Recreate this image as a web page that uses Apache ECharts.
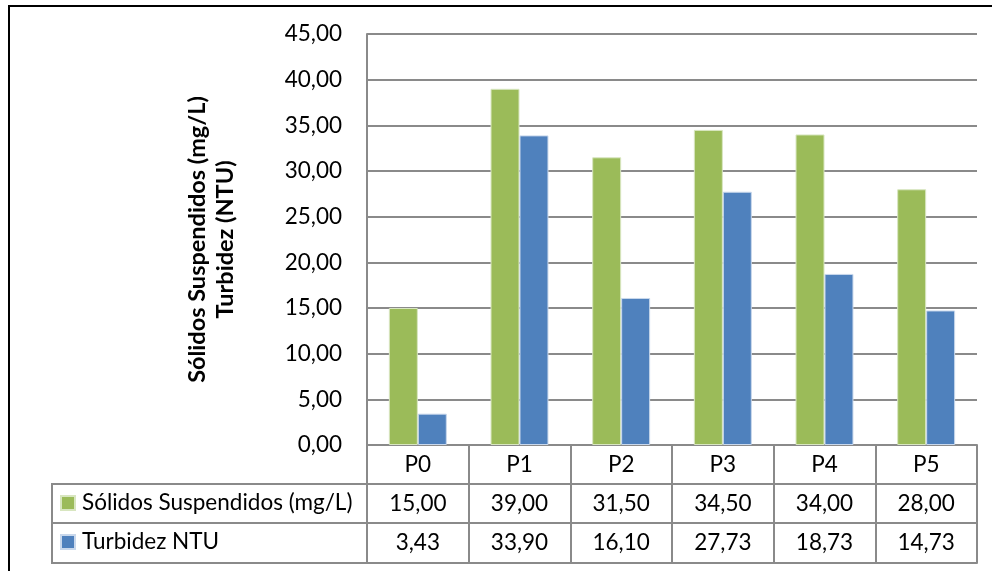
<!DOCTYPE html>
<html>
<head>
<meta charset="utf-8">
<script src="https://cdn.jsdelivr.net/npm/echarts@6/dist/echarts.min.js"></script>
<style>html,body{margin:0;padding:0;background:#fff;}#c{width:992px;height:571px;}</style>
</head>
<body>
<div id="c"></div>
<script>
const categories = ['P0', 'P1', 'P2', 'P3', 'P4', 'P5'];
const solidos = [15.00, 39.00, 31.50, 34.50, 34.00, 28.00];
const turbidez = [3.43, 33.90, 16.10, 27.73, 18.73, 14.73];
const seriesNames = ['Sólidos Suspendidos (mg/L)', 'Turbidez NTU'];
const yTitle = 'Sólidos Suspendidos (mg/L)\nTurbidez (NTU)';

const FONT = 'Lato';
const FS = 22.5;
const GRID = '#8a8a8a';
const fmt = v => Number(v).toFixed(2).replace('.', ',');

const chart = echarts.init(document.getElementById('c'), null, {renderer: 'canvas'});

function tableAxis(offset, data, showLabel) {
  return {
    type: 'category', data: data, position: 'bottom', offset: offset,
    axisLine: {show: true, lineStyle: {color: GRID, width: 2}},
    axisTick: {show: false},
    axisLabel: {show: showLabel, color: '#000', fontFamily: FONT, fontSize: FS, margin: 8},
    splitLine: {show: false}
  };
}

const option = {
  animation: false,
  backgroundColor: '#fff',
  grid: {left: 367, right: 15, top: 34, bottom: 126, containLabel: false},
  legend: {
    orient: 'vertical', left: 60, top: 491, itemGap: 15, padding: 0,
    itemWidth: 14, itemHeight: 14, icon: 'rect',
    textStyle: {fontFamily: FONT, fontSize: FS, color: '#000', lineHeight: 24, padding: [0, 0, 0, 2]},
    selectedMode: false,
    data: seriesNames
  },
  xAxis: [
    {
      type: 'category', data: categories, position: 'bottom',
      axisLine: {show: true, lineStyle: {color: GRID, width: 2}},
      axisTick: {show: true, length: 118, lineStyle: {color: GRID, width: 2}},
      axisLabel: {color: '#000', fontFamily: FONT, fontSize: FS, margin: 8},
      splitLine: {show: false}
    },
    tableAxis(39, solidos.map(fmt), true),
    tableAxis(78, turbidez.map(fmt), true),
    tableAxis(118, categories, false)
  ],
  yAxis: {
    type: 'value', min: 0, max: 45, interval: 5,
    axisLine: {show: true, lineStyle: {color: GRID, width: 2}},
    axisTick: {show: false},
    axisLabel: {color: '#000', fontFamily: FONT, fontSize: FS, margin: 25, formatter: fmt},
    splitLine: {show: true, lineStyle: {color: GRID, width: 2}},
    name: yTitle, nameLocation: 'middle', nameRotate: 90, nameGap: 128,
    nameTextStyle: {fontFamily: FONT, fontSize: 23.5, fontWeight: 'bold', color: '#000', lineHeight: 28, align: 'center'}
  },
  series: [
    {name: seriesNames[0], type: 'bar', data: solidos, xAxisIndex: 0, barGap: '0%', barCategoryGap: '43%',
     itemStyle: {color: '#9BBB59', borderColor: '#d8e6c0', borderWidth: 1}},
    {name: seriesNames[1], type: 'bar', data: turbidez, xAxisIndex: 0,
     itemStyle: {color: '#4F81BD', borderColor: '#c9d8ec', borderWidth: 1}}
  ],
  graphic: [
    {type: 'rect', shape: {x: 9, y: 6, width: 1100, height: 700}, style: {fill: 'none', stroke: '#000', lineWidth: 2}, silent: true, z: 100},
    {type: 'rect', shape: {x: 52, y: 484, width: 315, height: 79}, style: {fill: 'none', stroke: GRID, lineWidth: 2}, silent: true, z: 50},
    {type: 'line', shape: {x1: 52, y1: 523, x2: 367, y2: 523}, style: {stroke: GRID, lineWidth: 2}, silent: true, z: 50}
  ]
};
chart.setOption(option);
</script>
</body>
</html>
